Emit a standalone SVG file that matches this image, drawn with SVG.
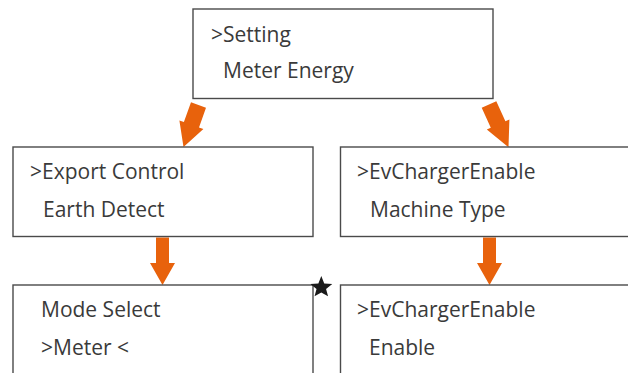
<svg xmlns="http://www.w3.org/2000/svg" width="628" height="373" viewBox="0 0 628 373">
<style>
.box{fill:#ffffff;stroke:#4a4a4a;stroke-width:1.4}
.t{font-family:"Open Sans","Liberation Sans",sans-serif;font-size:21px;fill:#3a3a3a}
.arr{fill:#E8620C}
</style>
<rect width="628" height="373" fill="#ffffff"/>
<g id="connectors">
<polygon class="arr" points="191,102.3 206,107.7 199,127.5 203.4,129.1 183.5,147.1 179.4,120.5 183.9,122.1"/>
<polygon class="arr" points="481.7,107.8 496.3,101.2 505.4,121.2 509.4,119.4 508.5,147.3 486.8,129.6 490.8,127.8"/>
<polygon class="arr" points="156,237.5 169,237.5 169,263 175,263 162.5,285 150,263 156,263"/>
<polygon class="arr" points="483,237.5 496,237.5 496,263 502,263 489.5,285 477,263 483,263"/>
</g>
<g id="node-setting">
<rect class="box" x="193" y="9" width="300" height="89.5"/>
<text class="t" x="211" y="41.5">&gt;Setting</text>
<text class="t" x="223" y="78">Meter Energy</text>
</g>
<g id="node-export">
<rect class="box" x="13" y="147" width="300" height="89.5"/>
<text class="t" x="30" y="179">&gt;Export Control</text>
<text class="t" x="43" y="217">Earth Detect</text>
</g>
<g id="node-evcharger">
<rect class="box" x="340.5" y="147" width="300" height="89.5"/>
<text class="t" x="357" y="179">&gt;EvChargerEnable</text>
<text class="t" x="370" y="217">Machine Type</text>
</g>
<g id="node-mode">
<rect class="box" x="13" y="285" width="300" height="100"/>
<text class="t" x="41" y="317">Mode Select</text>
<text class="t" x="41" y="355">&gt;Meter &lt;</text>
</g>
<g id="node-evenable">
<rect class="box" x="340.5" y="285" width="300" height="100"/>
<text class="t" x="357" y="317">&gt;EvChargerEnable</text>
<text class="t" x="369" y="355">Enable</text>
</g>
<polygon id="star" fill="#1a1a1a" points="321.3,276 324.24,283.45 332.24,283.95 326.06,289.05 328.06,296.3 321.3,292.5 314.54,296.3 316.54,289.05 310.36,283.95 318.36,283.45"/>
</svg>
